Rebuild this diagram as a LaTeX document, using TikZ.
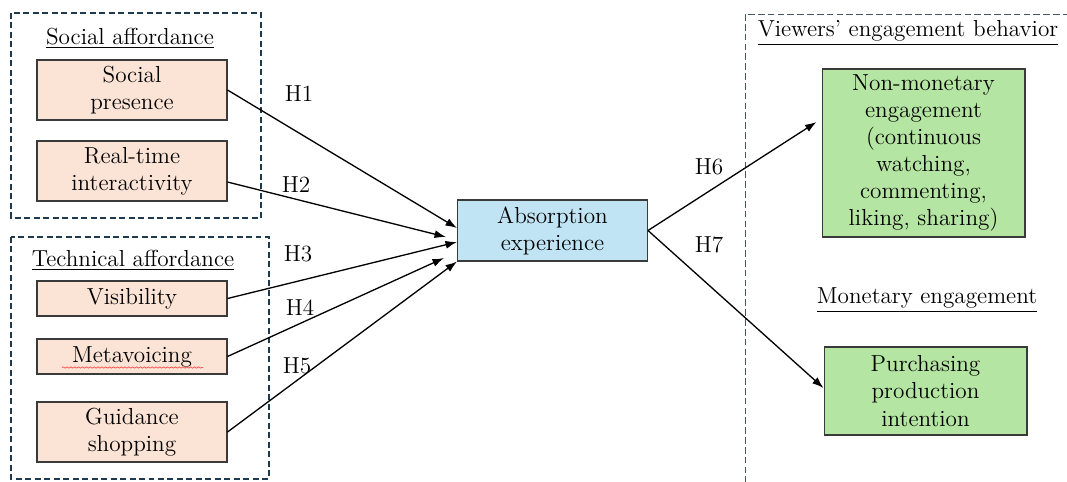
\documentclass[tikz,border=0pt]{standalone}
\usepackage{xcolor}
\definecolor{boxSalmon}{HTML}{FBE3D6}
\definecolor{boxBlue}{HTML}{C1E4F5}
\definecolor{boxGreen}{HTML}{B5E5A2}
\definecolor{frameDark}{HTML}{1F3A4E}
\definecolor{frameLight}{HTML}{44546A}
\definecolor{edgeGray}{HTML}{3A3A3A}
\usepackage{tikz}
\usetikzlibrary{
    arrows.meta,
    decorations.pathmorphing,
    positioning,
    calc
}
\tikzset{
    % Base style for all construct boxes
    construct/.style={
        font=\fontsize{13.2}{15.4}\selectfont,
        align=center,
        text=black,
        rectangle,
        draw=edgeGray,
        line width=0.6pt,
        inner sep=2pt,
        minimum width=3.8cm,
    },
    % Affordance boxes - salmon
    afford/.style={construct, fill=boxSalmon},
    % Mediator box - light blue
    mediator/.style={construct, fill=boxBlue},
    % Outcome boxes - green
    outcome/.style={construct, fill=boxGreen, minimum width=4.06cm},
    % Group frames - dashed
    group frame/.style={
        draw=frameDark,
        line width=0.85pt,
        dash pattern=on 3.4pt off 2pt,
    },
    outcome frame/.style={
        draw=frameLight,
        line width=0.5pt,
        dash pattern=on 3.8pt off 1.8pt,
    },
    % Group titles - underlined
    group title/.style={
        font=\fontsize{13.2}{15.4}\selectfont,
        inner sep=1pt,
    },
    % Hypothesis labels
    hyp/.style={
        font=\fontsize{13.2}{15.4}\selectfont,
        inner sep=1pt,
    },
    % Path arrows
    path arrow/.style={
        -{Latex[length=2.3mm, width=1.6mm]},
        line width=0.75pt,
        draw=black,
    },
}
\begin{document}
\begin{tikzpicture}[x=0.02cm, y=-0.02cm]
    \useasboundingbox (0,0) rectangle (1067,481);

    % frames
    \draw [group frame] (11,13) rectangle (261,218);
    \draw [group frame] (11,237) rectangle (269,479);
    \begin{scope}
        \clip (0,0) rectangle (1067,481);
        \draw [outcome frame] (745,14) rectangle (1090,520);
    \end{scope}

    % group titles
    \node (socTitle) [group title] at (130,38) {\underline{Social affordance}};
    \node (techTitle) [group title] at (133,260) {\underline{Technical affordance}};
    \node (viewTitle) [group title] at (908,33) {\underline{Viewers’ engagement behavior}};
    \node (monTitle) [group title] at (927,300) {\underline{Monetary engagement}};

    % affordances
    \node (presence) [afford, minimum height=1.2cm] at (132,90) {Social\\presence};
    \node (realtime) [afford, minimum height=1.2cm] at (132,171) {Real-time\\interactivity};
    \node (visible) [afford, minimum height=0.7cm] at (132,298.5) {Visibility};
    \node (metavoice) [afford, minimum height=0.7cm] at (132,356.5) {Metavoicing};
    \node (guidance) [afford, minimum height=1.2cm] at (132,432) {Guidance\\shopping};

    % mediator and outcomes
    \node (absorb) [mediator, minimum height=1.22cm] at (552.5,230.5) {Absorption\\experience};
    \node (nonmonetary) [outcome, minimum height=3.36cm] at (923.5,153)
        {Non-monetary\\engagement\\(continuous\\watching,\\commenting,\\liking, sharing)};
    \node (purchase) [outcome, minimum height=1.76cm] at (925.5,391)
        {Purchasing\\production\\intention};

    % spell-check squiggle
    \draw [red!70, line width=0.4pt, decorate,
        decoration={snake, amplitude=0.35pt, segment length=2.2pt}]
        ([shift={(-70,11)}]metavoice.center) -- ([shift={(71,11)}]metavoice.center);

    % hypothesised paths
    \draw [path arrow] (presence.east) -- ([yshift=0.05cm]absorb.west);
    \draw [path arrow] ([yshift=-0.22cm]realtime.east) -- ([xshift=-0.22cm, yshift=-0.13cm]absorb.west);
    \draw [path arrow] (visible.east) -- ([yshift=-0.23cm]absorb.west);
    \draw [path arrow] (metavoice.east) -- ([xshift=-0.26cm, yshift=-0.55cm]absorb.west);
    \draw [path arrow] (guidance.east) -- ([yshift=-0.62cm]absorb.west);
    \draw [path arrow] (absorb.east) -- ([xshift=-0.1cm, yshift=0.62cm]nonmonetary.west);
    \draw [path arrow] (absorb.east) -- ([yshift=0.06cm]purchase.west);

    % hypothesis labels
    \node (h1) [hyp] at (299,94) {H1};
    \node (h2) [hyp] at (296,185) {H2};
    \node (h3) [hyp] at (298,254) {H3};
    \node (h4) [hyp] at (300,308) {H4};
    \node (h5) [hyp] at (297,366) {H5};
    \node (h6) [hyp] at (709,167) {H6};
    \node (h7) [hyp] at (709,245) {H7};
\end{tikzpicture}
\end{document}
